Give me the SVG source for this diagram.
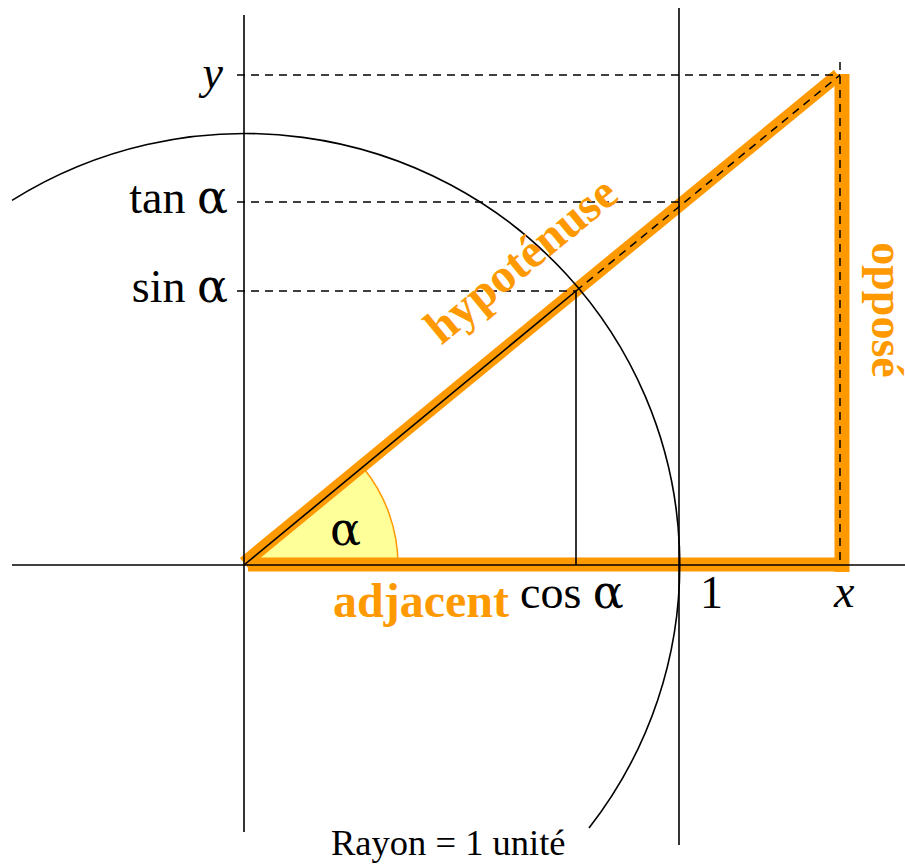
<svg xmlns="http://www.w3.org/2000/svg" width="905" height="865" viewBox="0 0 905 865">
<style>
.ax{stroke:#000;stroke-width:1.6;fill:none}
.dash{stroke:#000;stroke-width:1.5;stroke-dasharray:8 6;fill:none}
.or{stroke:#ff9900;fill:none}
.lbl{font-family:"Liberation Serif",serif;font-size:46px;fill:#000}
.it{font-style:italic}
.al{font-family:"DejaVu Serif","Liberation Serif",serif}
.sm{font-size:36.5px}
.ol{font-family:"Liberation Serif",serif;font-size:48px;font-weight:bold;fill:#ff9900}
.op{font-size:46px}
</style>
<rect width="905" height="865" fill="#fff"/>
<g id="angle">
<path d="M244,565 L398,565 A154,154 0 0 0 363,467.4 Z" fill="#ffff99" stroke="none"/>
<path d="M398,565 A154,154 0 0 0 363,467.4" fill="none" stroke="#ff9900" stroke-width="1.5"/>
</g>
<g id="triangle">
<line class="or" x1="244" y1="563" x2="838" y2="75" stroke-width="13"/>
<line class="or" x1="248" y1="564.5" x2="849" y2="564.5" stroke-width="14"/>
<line class="or" x1="842" y1="74" x2="842" y2="572" stroke-width="15"/>
</g>
<g id="axes">
<line class="ax" x1="12" y1="565" x2="905" y2="565"/>
<line class="ax" x1="244" y1="15" x2="244" y2="832"/>
<line class="ax" x1="679" y1="8" x2="679" y2="845"/>
</g>
<g id="circle">
<path class="ax" d="M12,200.4 A435,431 0 0 1 589,828"/>
</g>
<g id="connectors">
<line class="ax" x1="244" y1="565" x2="576" y2="291"/>
<line class="ax" x1="576" y1="291" x2="576" y2="565"/>
<line class="dash" x1="237" y1="75" x2="840" y2="75"/>
<line class="dash" x1="237" y1="202" x2="679" y2="202"/>
<line class="dash" x1="237" y1="291" x2="576" y2="291"/>
<line class="dash" x1="576" y1="291" x2="840" y2="75"/>
<line class="dash" x1="840" y1="62" x2="840" y2="565"/>
</g>
<g id="labels">
<text class="lbl it" x="223" y="88" text-anchor="end">y</text>
<text class="lbl" x="228" y="213" text-anchor="end">tan <tspan class="al">α</tspan></text>
<text class="lbl" x="228" y="302" text-anchor="end">sin <tspan class="al">α</tspan></text>
<text class="lbl" x="520" y="608">cos <tspan class="al">α</tspan></text>
<text class="lbl" x="700" y="608">1</text>
<text class="lbl it" x="834" y="607">x</text>
<text class="lbl al" x="330" y="545">α</text>
<text class="lbl sm" x="331" y="855">Rayon = 1 unité</text>
<text class="ol" x="333" y="617">adjacent</text>
<text class="ol" transform="translate(531,272) rotate(-39.4)" text-anchor="middle">hypoténuse</text>
<text class="ol op" transform="translate(872,310) rotate(90)" text-anchor="middle">opposé</text>
</g>
</svg>
